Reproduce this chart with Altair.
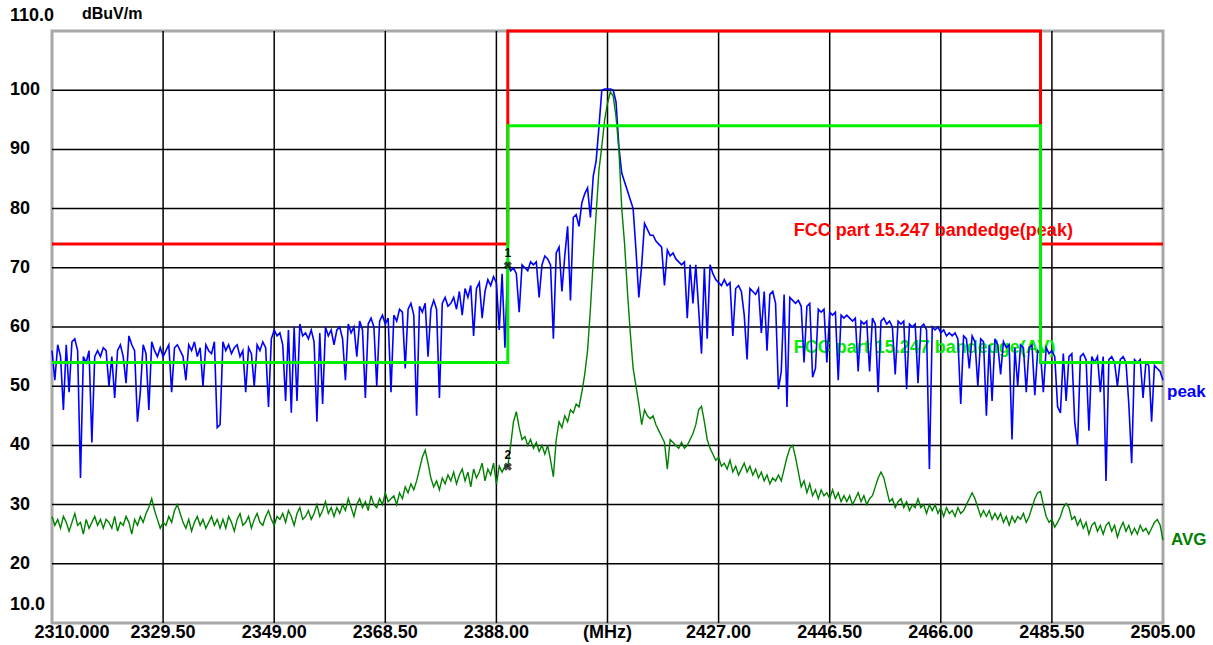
import altair as alt
import pandas as pd

# Sweep settings (MHz)
F_START, F_STOP, F_STEP = 2310.0, 2505.0, 0.5

# Peak detector trace, dBuV/m, one list per 10 MHz of sweep
peak_2310 = [56, 51, 57, 55, 46, 57, 49, 57.5, 58, 56, 34.5, 55, 54, 56, 40.5, 55, 56, 55, 56.5, 56]
peak_2320 = [50, 55, 48, 56, 57, 55, 50.5, 58.5, 57, 56, 44, 49, 57, 55.5, 46, 57.5, 56, 55, 56.5, 55]
peak_2330 = [56, 57, 49, 56.5, 57, 56, 55, 51, 57, 56, 57.5, 55, 56.5, 50, 57, 56, 55.5, 57.5, 43, 43.5]
peak_2340 = [57.5, 56, 57, 55.5, 56.5, 57, 55, 56, 49, 56.5, 55.5, 50, 57, 56, 57.5, 56.5, 46.5, 58, 59.5, 58.5]
peak_2350 = [59, 57, 47.5, 59.5, 45.5, 60, 47.5, 60.5, 58.5, 59, 58, 59.5, 57.5, 44, 59, 47, 60, 58.5, 59.5, 57]
peak_2360 = [59.5, 60, 58, 51, 60.5, 59, 60, 55, 61, 59.5, 48, 60.5, 61.5, 60, 50, 61, 62, 60.5, 61.5, 49]
peak_2370 = [62, 61, 63, 62.5, 53, 63, 64, 62, 45, 63.5, 62.5, 64, 55, 63, 64.5, 63, 48, 64, 65, 63.5]
peak_2380 = [64, 65, 63, 66, 62, 66.5, 65, 67, 58.5, 66.5, 67.5, 61.5, 66, 68, 67, 68.5, 67.5, 59.5, 69, 56.5]
peak_2390 = [70.5, 69.5, 70, 69, 62.5, 70.5, 70, 69.5, 71, 70.5, 71, 65, 70.5, 72, 71.5, 70.5, 58, 72.5, 73.5, 66]
peak_2400 = [72, 77, 64.5, 78.5, 79, 77, 81, 82.5, 83.5, 78.5, 85.5, 88, 93.8, 100, 100.2, 100.2, 100.2, 100, 98, 90.4]
peak_2410 = [86, 84.5, 83, 81.5, 80, 73, 65, 70.5, 77.5, 76.5, 75.5, 75.5, 74.5, 74, 73.5, 67, 73, 72, 72.5, 71.5]
peak_2420 = [71, 70.5, 71, 61.5, 70.5, 64, 70.5, 63, 55.5, 70, 58, 70.5, 69, 68, 67.5, 67, 68, 67, 67.5, 58.5]
peak_2430 = [66.5, 67, 66, 62, 54.5, 66.5, 66, 65.5, 66.5, 59, 66, 56, 65.5, 66, 64, 49.5, 52.5, 65.5, 46.5, 65]
peak_2440 = [64.5, 64, 64.5, 63.5, 54, 63.5, 64, 51.5, 53, 63, 62.5, 63, 54, 62.5, 62, 62.5, 51, 62, 61.5, 62]
peak_2450 = [61.5, 61, 61.5, 52.5, 61, 60.5, 61, 52.5, 61.5, 60.5, 49, 61, 61.5, 60.5, 61, 60, 52, 61, 60.5, 61]
peak_2460 = [49.5, 60.5, 60, 60.5, 50.5, 60, 60.5, 59.5, 36, 60, 59.5, 60, 59, 59.5, 58.5, 59, 58.5, 59, 58, 47]
peak_2470 = [58.5, 58, 53, 58.5, 57.5, 50, 58, 57.5, 45, 57, 47.5, 58, 57, 52, 57.5, 56.5, 57, 41, 56.5, 50]
peak_2480 = [57, 56.5, 49, 56.5, 57, 48.5, 56, 55.5, 49, 56.5, 55.5, 56, 55, 46.5, 45.5, 55.5, 47.5, 55, 55.5, 44]
peak_2490 = [40, 55, 55.5, 54.5, 42.5, 55, 54, 55, 49, 55, 34, 54.5, 55, 54, 50, 54.5, 55, 54, 47, 37]
peak_2500 = [54.5, 54, 54.5, 48, 54, 53.5, 44, 53.5, 53, 52.5, 51]

# Average detector trace, dBuV/m
avg_2310 = [28, 26.5, 27.5, 26, 28, 27, 25.5, 27, 28.5, 26.5, 27, 25, 27.5, 26, 27, 28, 26.5, 27.5, 26, 27.5]
avg_2320 = [27, 26, 28, 25.5, 27, 26.5, 28, 27, 25, 27.5, 26.5, 28, 27, 28.5, 29.5, 31, 29, 27.5, 26, 27]
avg_2330 = [26.5, 28, 27, 29, 30, 28.5, 27, 26, 27.5, 25.5, 27, 28, 26.5, 27.5, 26, 27, 28, 26.5, 27.5, 26]
avg_2340 = [27.5, 26, 28, 27, 25.5, 27.5, 28.5, 26.5, 27, 28, 26, 27.5, 28.5, 27, 26.5, 28, 29, 27.5, 26.5, 28]
avg_2350 = [27.5, 28.5, 27, 29, 28, 26.5, 28.5, 29.5, 27.5, 28, 29, 27.5, 28.5, 30, 28, 29, 30.5, 28.5, 29.5, 28]
avg_2360 = [29.5, 28.5, 30, 29, 31, 29.5, 28, 30, 31, 29.5, 30.5, 29, 31.5, 30, 29.5, 31, 30, 32, 30.5, 31]
avg_2370 = [31.5, 30, 32, 31, 33, 32, 33.5, 32.5, 34, 36, 38, 39.2, 37, 34.5, 33, 34, 32.5, 34.5, 33.5, 35]
avg_2380 = [34, 35.5, 33.5, 35, 36, 34, 35.5, 33, 36, 34.5, 35.5, 37, 34, 36, 35, 37, 33.5, 36.5, 35.5, 36.5]
avg_2390 = [36.5, 40, 44, 45.7, 43, 41, 41.5, 40, 41, 39.5, 40.5, 39, 40, 38.5, 40, 37.5, 34.7, 41, 44, 43]
avg_2400 = [45, 44, 46, 45.5, 47, 46.5, 49, 52, 56, 63, 71.3, 79, 86.5, 90.5, 95, 97.8, 99.7, 99, 95.5, 90]
avg_2410 = [80, 74, 66, 59, 53, 50, 47, 43.5, 46, 45, 44.5, 45, 43.5, 42.5, 41.5, 40.5, 36, 41, 40.5, 40]
avg_2420 = [39.5, 40.5, 39.5, 40, 41, 42, 43.5, 46, 46.6, 44, 41, 39.5, 38.5, 37.5, 38, 36.5, 37, 36, 37.5, 35.5]
avg_2430 = [36.5, 35, 36, 37, 35.5, 36.5, 35, 36, 34.5, 35.5, 34, 35, 33.5, 34.5, 34, 35, 34, 36, 38, 39.5]
avg_2440 = [40, 38, 35.5, 33, 34, 32, 33.5, 31.5, 32.5, 31, 32.5, 31.5, 32, 31, 32.5, 31, 32, 30.5, 31.5, 30.5]
avg_2450 = [31.5, 30, 31, 32, 30.5, 31.5, 30, 31, 31.5, 33, 34.5, 35.5, 34.5, 32.5, 30.5, 31, 29.5, 30.5, 31, 29.5]
avg_2460 = [30.5, 29, 30, 29.5, 31, 29.5, 30, 28.5, 30, 29, 30, 28.5, 29.5, 28, 29.5, 28.5, 29, 28, 29.5, 28.5]
avg_2470 = [29, 30, 31, 32, 31, 29.5, 28, 29, 28, 29, 27.5, 28.5, 27.5, 28.5, 27, 28, 26.5, 28, 27, 28]
avg_2480 = [27.5, 28.5, 27, 28, 29.5, 31, 32, 32.2, 30, 28, 27, 27.5, 26.2, 27, 28, 29.5, 30.2, 29.5, 27.5, 28]
avg_2490 = [26.5, 27.5, 26, 27, 25, 26.5, 27, 25.5, 26.5, 25, 26.5, 27, 25.5, 26.5, 24.5, 26, 27, 25.5, 26.5, 25]
avg_2500 = [26, 25, 26.5, 25.5, 26, 25, 26, 27, 27.5, 26.5, 24]

# FCC 15.247 band-edge limit lines (step outlines)
limit_freq = [2310, 2390, 2390, 2483.5, 2483.5, 2505]
limit_peak = [74, 74, 110, 110, 74, 74]
limit_avg = [54, 54, 94, 94, 54, 54]

# Axis ticks and their printed labels
x_ticks = [2310, 2329.5, 2349, 2368.5, 2388, 2407.5, 2427, 2446.5, 2466, 2485.5, 2505]
x_tick_text = ["2310.000", "2329.50", "2349.00", "2368.50", "2388.00", "(MHz)",
               "2427.00", "2446.50", "2466.00", "2485.50", "2505.00"]
y_ticks = [10, 20, 30, 40, 50, 60, 70, 80, 90, 100, 110]
y_tick_text = ["10.0", "20", "30", "40", "50", "60", "70", "80", "90", "100", "110.0"]

# Marker readouts at the lower band edge
marker_freq = [2390, 2390]
marker_level = [70.4, 36.4]
marker_name = ["1", "2"]

peak_level = (peak_2310 + peak_2320 + peak_2330 + peak_2340 + peak_2350 + peak_2360 + peak_2370
              + peak_2380 + peak_2390 + peak_2400 + peak_2410 + peak_2420 + peak_2430 + peak_2440
              + peak_2450 + peak_2460 + peak_2470 + peak_2480 + peak_2490 + peak_2500)
avg_level = (avg_2310 + avg_2320 + avg_2330 + avg_2340 + avg_2350 + avg_2360 + avg_2370
             + avg_2380 + avg_2390 + avg_2400 + avg_2410 + avg_2420 + avg_2430 + avg_2440
             + avg_2450 + avg_2460 + avg_2470 + avg_2480 + avg_2490 + avg_2500)
freq = [F_START + i * F_STEP for i in range(len(peak_level))]

W, H = 1111, 592
FONT = "Liberation Sans"
BLUE, DKGREEN, RED, LIME = "#0000ff", "#008000", "#ff0000", "#00ee00"

traces = pd.DataFrame({"f": freq, "peak": peak_level, "avg": avg_level})
limits = pd.DataFrame({"f": limit_freq, "pk": limit_peak, "av": limit_avg,
                       "idx": list(range(len(limit_freq)))})
xt = pd.DataFrame({"f": x_ticks, "t": x_tick_text})
yt = pd.DataFrame({"v": y_ticks, "t": y_tick_text})
mk = pd.DataFrame({"f": marker_freq, "v": marker_level, "n": marker_name})

xs = alt.Scale(domain=[F_START, F_STOP], nice=False, zero=False)
ys = alt.Scale(domain=[10, 110], nice=False, zero=False)


def X(field="f"):
    return alt.X(f"{field}:Q", scale=xs, axis=None)


def Y(field):
    return alt.Y(f"{field}:Q", scale=ys, axis=None)


base = alt.Chart(traces)

# Grid (inner lines only, the frame is the view stroke)
vgrid = alt.Chart(xt.iloc[1:-1]).mark_rule(color="#000000", strokeWidth=1.5).encode(x=X())
hgrid = alt.Chart(yt.iloc[1:-1]).mark_rule(color="#000000", strokeWidth=1.5).encode(y=Y("v"))

txt = dict(font=FONT, fontWeight="bold", fontSize=18, color="#000000")

ylab_mid = alt.Chart(yt.iloc[1:-1]).mark_text(align="left", baseline="middle", **txt).encode(
    x=alt.value(-42), y=Y("v"), text="t:N")
ylab_top = alt.Chart(yt.iloc[-1:]).mark_text(align="left", baseline="middle", dy=-15, **txt).encode(
    x=alt.value(-42), y=Y("v"), text="t:N")
ylab_bot = alt.Chart(yt.iloc[:1]).mark_text(align="left", baseline="middle", dy=-18, **txt).encode(
    x=alt.value(-42), y=Y("v"), text="t:N")
unit = alt.Chart(yt.iloc[:1]).mark_text(align="left", baseline="middle", font=FONT, fontWeight="bold",
                                        fontSize=16, color="#000000").encode(
    x=alt.value(30), y=alt.value(-17), text=alt.value("dBuV/m"))

xlab = alt.Chart(xt.iloc[1:]).mark_text(align="center", baseline="middle", **txt).encode(
    x=X(), y=alt.value(H + 10), text="t:N")
xlab0 = alt.Chart(xt.iloc[:1]).mark_text(align="center", baseline="middle", dx=20, **txt).encode(
    x=X(), y=alt.value(H + 10), text="t:N")

# Limit captions
cap = pd.DataFrame({"f": [2440.2, 2440.2], "v": [76.3, 56.4],
                    "t": ["FCC part 15.247 bandedge(peak)", "FCC part 15.247 bandedge(AV)"],
                    "c": [RED, LIME]})
captions = alt.Chart(cap).mark_text(align="left", baseline="middle", font=FONT, fontWeight="bold",
                                    fontSize=18).encode(
    x=X(), y=Y("v"), text="t:N", color=alt.Color("c:N", scale=None))

peak_line = base.mark_line(color=BLUE, strokeWidth=1.6).encode(x=X(), y=Y("peak"))
avg_line = base.mark_line(color=DKGREEN, strokeWidth=1.4).encode(x=X(), y=Y("avg"))

lim_pk = alt.Chart(limits).mark_line(color=RED, strokeWidth=3, clip=False).encode(
    x=X(), y=Y("pk"), order="idx:Q")
lim_av = alt.Chart(limits).mark_line(color=LIME, strokeWidth=3, clip=False).encode(
    x=X(), y=Y("av"), order="idx:Q")

end_pk = base.transform_filter(alt.datum.f == F_STOP).mark_text(
    align="left", baseline="middle", dx=4, dy=12, font=FONT, fontWeight="bold", fontSize=17,
    color=BLUE).encode(x=X(), y=Y("peak"), text=alt.value("peak"))
end_av = base.transform_filter(alt.datum.f == F_STOP).mark_text(
    align="left", baseline="middle", dx=8, dy=0, font=FONT, fontWeight="bold", fontSize=17,
    color=DKGREEN).encode(x=X(), y=Y("avg"), text=alt.value("AVG"))

mk_x = alt.Chart(mk).mark_point(shape="cross", angle=45, size=70, filled=True, color="#000000",
                                strokeWidth=0).encode(x=X(), y=Y("v"))
mk_n = alt.Chart(mk).mark_text(align="center", baseline="bottom", dy=-5, font=FONT, fontSize=12,
                               fontWeight="bold", color="#000000").encode(x=X(), y=Y("v"), text="n:N")

chart = alt.layer(
    vgrid, hgrid, ylab_mid, ylab_top, ylab_bot, unit, xlab, xlab0, captions,
    peak_line, avg_line, lim_pk, lim_av, end_pk, end_av, mk_x, mk_n
).properties(
    width=W, height=H,
    padding={"left": 52, "top": 31, "right": 50, "bottom": 22},
    autosize=alt.AutoSizeParams(type="none"),
    background="#ffffff",
).configure_view(stroke="#a8a8a8", strokeWidth=3)

chart.save("out.html", embed_options={"renderer": "svg", "actions": False})
